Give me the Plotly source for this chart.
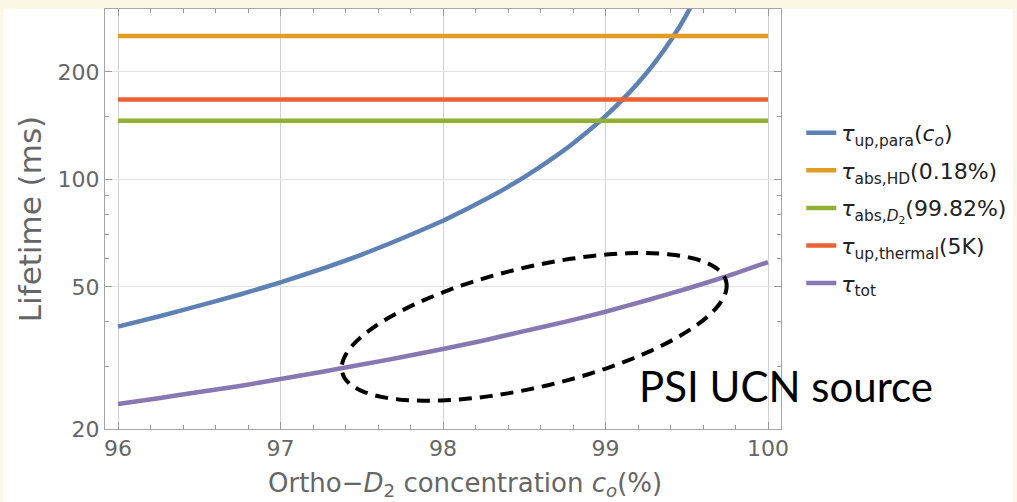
import math
import plotly.graph_objects as go

# ---- data ----
c_o = [96, 96.25, 96.5, 96.75, 97, 97.25, 97.5, 97.75, 98, 98.1, 98.2, 98.3,
       98.4, 98.5, 98.6, 98.7, 98.8, 98.9, 99, 99.1, 99.2, 99.3, 99.4, 99.5,
       99.6]
tau_up_para = [38.7, 41.3, 44.3, 47.6, 51.5, 56.1, 61.6, 68.4, 76.6, 80.6,
               85.0, 89.8, 95.3, 101.5, 108.6, 116.7, 126.1, 137.2, 150.4,
               166.4, 186.2, 211.4, 244.5, 289.9, 356]

c_tot = [96, 96.25, 96.5, 96.75, 97, 97.25, 97.5, 97.75, 98, 98.25, 98.5,
         98.75, 99, 99.25, 99.5, 99.75, 100]
tau_tot = [23.5, 24.4, 25.4, 26.4, 27.6, 28.9, 30.3, 31.8, 33.5, 35.4, 37.6,
           39.9, 42.6, 45.8, 49.4, 53.6, 58.7]

c_flat = [96, 100]
tau_abs_HD = [252, 252]
tau_abs_D2 = [146, 146]
tau_up_thermal = [167.5, 167.5]

x_ticks = [96, 97, 98, 99, 100]
y_ticks = [20, 50, 100, 200]
y_minor = [30, 40, 60, 70, 80, 90, 150, 300]
x_minor = [96.2, 96.4, 96.6, 96.8, 97.2, 97.4, 97.6, 97.8, 98.2, 98.4, 98.6,
           98.8, 99.2, 99.4, 99.6, 99.8]

names = [
    "<i>τ</i><sub>up,para</sub>(<i>c</i><sub><i>o</i></sub>)",
    "<i>τ</i><sub>abs,HD</sub>(0.18%)",
    "<i>τ</i><sub>abs,<i>D</i><sub>2</sub></sub>(99.82%)",
    "<i>τ</i><sub>up,thermal</sub>(5K)",
    "<i>τ</i><sub>tot</sub>",
]
colors = ["#5E81B5", "#E19C24", "#8FB032", "#EB6235", "#8778B3"]

GRAY = "#666666"
CREAM = "#fdf7e6"
FONT = "DejaVu Sans"

fig = go.Figure()
series = [
    (c_o, tau_up_para),
    (c_flat, tau_abs_HD),
    (c_flat, tau_abs_D2),
    (c_flat, tau_up_thermal),
    (c_tot, tau_tot),
]
for i, ((xs, ys), nm, col) in enumerate(zip(series, names, colors)):
    fig.add_trace(go.Scatter(
        x=xs, y=ys, mode="lines", name=nm, legendgroup=f"g{i}",
        line=dict(color=col, width=4.5, shape="spline", smoothing=0.5),
        cliponaxis=True,
    ))

# plot area geometry in pixels (for the decoration ellipse)
W, H = 1017, 502
L, R, T, B = 105, 236, 9, 73
pw, ph = W - L - R, H - T - B

# tilted dashed ellipse (annotation)
cx, cy, a, b, th = 534.2, 326.9, 197.3, 59.9, math.radians(13.3)
pts = []
for k in range(0, 121):
    t = 2 * math.pi * k / 120
    px = cx + a * math.cos(t) * math.cos(th) + b * math.sin(t) * math.sin(th)
    py = cy - a * math.cos(t) * math.sin(th) + b * math.sin(t) * math.cos(th)
    pts.append(((px - L) / pw, (H - B - py) / ph))
path = "M " + " L ".join(f"{u:.5f},{v:.5f}" for u, v in pts) + " Z"
fig.add_shape(type="path", path=path, xref="paper", yref="paper",
              line=dict(color="black", width=4, dash="13px,8px"))

# white figure area with a cream border at top/left/right
fig.add_shape(type="rect", xref="paper", yref="paper", layer="below",
              x0=(3 - L) / pw, x1=(1013 - L) / pw, y0=-B / ph - 0.05, y1=1.0,
              fillcolor="white", line=dict(width=0))

fig.add_annotation(text="PSI UCN source", xref="paper", yref="paper",
                   x=(786 - L) / pw, y=(H - B - 386) / ph, showarrow=False,
                   font=dict(family="Lato, Open Sans", size=42, color="black"),
                   xanchor="center", yanchor="middle")

# x-axis title (placed as annotation to match its offset position)
fig.add_annotation(
    text="Ortho−<i>D</i><sub>2</sub> concentration <i>c</i><sub><i>o</i></sub>(%)",
    xref="paper", yref="paper", x=(465 - L) / pw, y=(H - B - 484) / ph,
    showarrow=False, xanchor="center", yanchor="middle",
    font=dict(family=FONT, size=26, color=GRAY))

axis_common = dict(
    showline=True, linecolor="#a6a6a6", linewidth=1, mirror="ticks",
    ticks="inside", ticklen=7, tickcolor="#999999", tickwidth=1,
    tickfont=dict(family=FONT, size=22, color=GRAY),
    zeroline=False,
)
fig.update_xaxes(
    range=[95.92, 100.08], tickmode="array", tickvals=x_ticks,
    ticktext=[str(v) for v in x_ticks],
    showgrid=True, gridcolor="#d2d2d2", gridwidth=1,
    minor=dict(tickvals=x_minor, ticks="inside", ticklen=4,
               tickcolor="#999999", showgrid=False),
    **axis_common,
)
fig.update_yaxes(
    type="log", range=[math.log10(20), math.log10(300)], tickmode="array",
    tickvals=y_ticks, ticktext=[str(v) for v in y_ticks],
    showgrid=True, gridcolor="#e3e3e3", gridwidth=1,
    minor=dict(tickvals=y_minor, ticks="inside", ticklen=4,
               tickcolor="#999999", showgrid=False),
    title=dict(text="Lifetime (ms)", font=dict(family=FONT, size=31, color=GRAY),
               standoff=6),
    **axis_common,
)

fig.update_layout(
    width=W, height=H,
    margin=dict(l=L, r=R, t=T, b=B, autoexpand=False),
    paper_bgcolor=CREAM, plot_bgcolor="white",
    showlegend=True,
    legend=dict(x=1.03, xanchor="left", y=0.755, yanchor="top",
                font=dict(family=FONT, size=22, color="#222222"),
                bgcolor="rgba(0,0,0,0)", tracegroupgap=6, itemwidth=30),
)
fig.write_html("out.html", config={"displayModeBar": False},
               post_script="document.body.style.margin='0';")
